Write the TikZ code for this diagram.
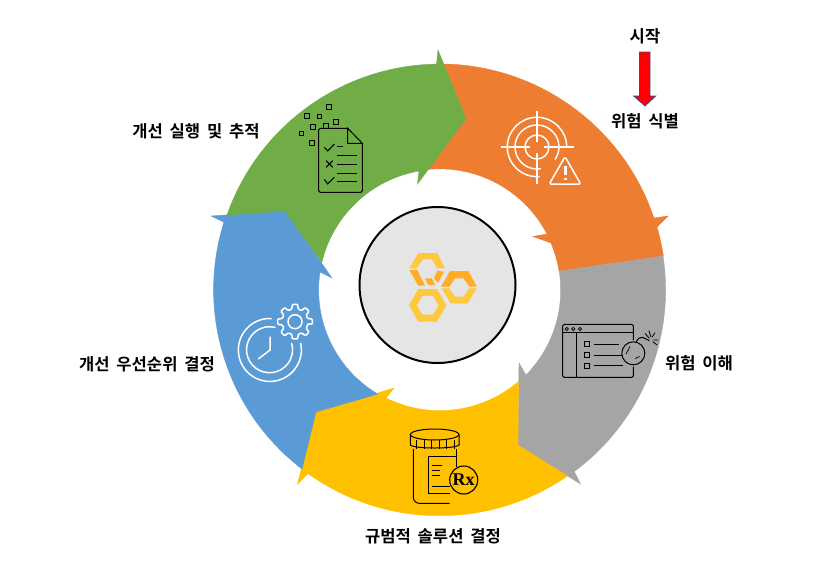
\documentclass[tikz,border=0pt]{standalone}
\usepackage{fontspec}
\newfontfamily\krfont{Noto Sans CJK KR}[BoldFont={* Bold},WordSpace=1.8]
\newfontfamily\rxfont{Liberation Serif}
\definecolor{segorange}{HTML}{ED7D31}
\definecolor{seggrey}{HTML}{A5A5A5}
\definecolor{segyellow}{HTML}{FFC000}
\definecolor{segblue}{HTML}{5B9BD5}
\definecolor{seggreen}{HTML}{70AD47}
\definecolor{hexlight}{HTML}{FFC83D}
\definecolor{hexdark}{HTML}{FFAC26}
\definecolor{arrowrim}{HTML}{2F528F}
\tikzset{
  seg/.style={draw=#1,fill=#1,line width=0.4pt},
  steplabel/.style={font=\krfont\bfseries\fontsize{16.6}{20}\selectfont,inner sep=0pt},
  iconw/.style={draw=white,line width=1.5pt},
  iconk/.style={draw=black,line width=1pt}
}
\begin{document}
\begin{tikzpicture}[x=1pt,y=1pt]
\useasboundingbox (0,0) rectangle (840,-584);
\path [seg=segorange] (444,-64) arc[start angle=88.9,end angle=18.55,radius=226] -- (668,-216) -- (657,-227) arc[start angle=16.15,end angle=8.65,radius=226] -- (559,-271) arc[start angle=9.03,end angle=22.86,radius=121] -- (533,-236.5) -- (547,-234) arc[start angle=27.5,end angle=95.5,radius=121] -- (466,-118.5) -- cycle;
\path [seg=seggrey] (663,-256) arc[start angle=8.65,end angle=-53.4,radius=226] -- (580.5,-484) -- (518,-445) -- (519,-363) -- (526,-375) arc[start angle=-44.5,end angle=9.03,radius=121] -- cycle;
\path [seg=segyellow] (567.5,-476) arc[start angle=-55.5,end angle=-125.6,radius=226] -- (297.5,-484) -- (316,-412) -- (394,-388) -- (386,-398) arc[start angle=-116.4,end angle=-49.5,radius=121] -- (518,-445) -- cycle;
\path [seg=segblue] (302,-469) arc[start angle=232.5,end angle=162.6,radius=226] -- (211,-216) -- (285,-211) -- (332,-278) -- (320,-272) arc[start angle=171.4,end angle=239.2,radius=121] -- (316,-412) -- cycle;
\path [seg=seggreen] (227,-215) arc[start angle=160.6,end angle=90.9,radius=226] -- (438,-50) -- (466,-118.5) -- (417.5,-184) -- (419,-171) arc[start angle=99.8,end angle=166.8,radius=121] -- (285,-211) -- cycle;
\draw [black,line width=2pt,fill=black!10] (437.5,-285) circle (78);
\fill [hexlight,even odd rule] (427.7,-305.3) +(0:18.7) -- +(60:18.7) -- +(120:18.7) -- +(180:18.7) -- +(240:18.7) -- +(300:18.7) -- cycle (427.7,-305.3) +(0:10.8) -- +(60:10.8) -- +(120:10.8) -- +(180:10.8) -- +(240:10.8) -- +(300:10.8) -- cycle;
\fill [hexlight] (409.3,-268.3) -- (418.3,-253) -- (437.3,-253) -- (445,-268.3) -- (437.3,-268.3) -- (431.7,-259.3) -- (422.7,-259.3) -- (416.7,-268.3) -- cycle;
\fill [hexdark] (409.3,-270) -- (417.3,-270) -- (425,-285.7) -- (418.3,-285.7) -- cycle;
\fill [hexdark] (425,-278.3) -- (431.7,-278.3) -- (435,-285) -- (428.3,-285) -- cycle;
\fill [hexdark] (437.3,-270.7) -- (444,-271.7) -- (438.3,-282.7) -- (434,-278.3) -- cycle;
\fill [hexdark] (441,-286.7) -- (450,-271) -- (468.3,-271) -- (477,-286.7) -- (469.3,-286.7) -- (463.3,-278.3) -- (455,-278.3) -- (449.3,-286.7) -- cycle;
\fill [hexlight] (441.7,-288.3) -- (449.3,-288.3) -- (455,-296.7) -- (463.3,-296.7) -- (469.3,-288.3) -- (476.7,-288.3) -- (467.7,-303.3) -- (450.7,-303.3) -- cycle;
% target
\draw [iconw] (537,-147) circle (12);
\draw [iconw] (566.7,-147) arc[start angle=0,end angle=275,radius=29.7];
\draw [iconw] (555,-159.6) arc[start angle=-35,end angle=280,radius=22];
\draw [iconw] (500.7,-147) -- (530,-147) (544,-147) -- (574.3,-147);
\draw [iconw] (537,-110.7) -- (537,-141.7) (537,-153.3) -- (537,-184);
\draw [iconw,rounded corners=1.5pt] (565,-156.7) -- (580.7,-184) -- (549.3,-184) -- cycle;
\draw [white,line width=3pt] (565,-166) -- (565,-175) (565,-177.5) -- (565,-180);
% checklist
\draw [iconk,rounded corners=1.5pt] (347.7,-128.3) -- (318.7,-128.3) -- (318.7,-192.3) -- (362.3,-192.3) -- (362.3,-143.3);
\draw [iconk] (347.7,-128.3) -- (362.3,-143.3) -- (347.7,-143.3) -- cycle;
\foreach \x/\y/\s in {329/107/5,307/115.7/5,319.3/116.7/4.5,336/122.3/5,313/126.7/5,325.7/126.3/5,301.3/133.3/4,312/142.7/5}
  \draw [black,line width=1pt] (\x-\s/2,-\y-\s/2) rectangle (\x+\s/2,-\y+\s/2);
\draw [iconk] (324.3,-147.3) -- (327.7,-151) -- (334.3,-144);
\draw [iconk] (324.3,-179.3) -- (327.7,-184) -- (334.3,-177.3);
\draw [iconk] (326,-160.7) -- (332.7,-167.3) (332.7,-160.7) -- (326,-167.3);
\draw [iconk] (337.3,-146.7) -- (343.3,-146.7);
\foreach \y in {155.7,164.3,173.3,181.3}
  \draw [iconk] (337.3,-\y) -- (356.7,-\y);
% window and bomb
\draw [iconk,rounded corners=1.5pt] (633.3,-340) -- (633.3,-324.3) -- (562.7,-324.3) -- (562.7,-377.3) -- (633.3,-377.3) -- (633.3,-366.7);
\draw [iconk] (562.7,-332.7) -- (633.3,-332.7);
\draw [iconk] (576,-332.7) -- (576,-377.3);
\foreach \x in {566.7,573.3,580}
  \draw [black,line width=0.7pt] (\x,-329) circle (1.6);
\foreach \y/\e in {344.3/619.3,355/621.7,365.7/622.7} {
  \draw [black,line width=1.2pt] (584.8,-\y+2.5) rectangle (589.8,-\y-2.5);
  \draw [iconk] (594.3,-\y) -- (\e,-\y);
}
\draw [iconk] (633.3,-353.3) circle (11.5);
\draw [black,line width=0.7pt] (626,-354) -- (630,-346.5) (635,-358.5) -- (639.5,-356.5);
\draw [iconk] (636,-342.3) .. controls (640,-334) and (644,-338) .. (649.3,-340.7);
\draw [black,line width=0.8pt] (645,-333.3) -- (649.3,-338.3) (649,-330.7) -- (650.7,-336.7) (655,-332.7) -- (652,-337.3) (658.3,-340) -- (653.3,-340) (657.3,-345) -- (652.7,-341.7);
% jar
\draw [iconk] (434.7,-434.5) ellipse (24.3 and 5.5);
\draw [iconk] (410.4,-434.5) -- (410.4,-445) .. controls (414,-449) and (455,-449) .. (459,-445) -- (459,-434.5);
\foreach \x in {416.7,424.3,431.7,439.3,446.7,454.3}
  \draw [black,line width=0.9pt] (\x,-440) -- (\x,-449);
\draw [iconk,rounded corners=6pt] (413.3,-449) -- (413.3,-503.3) -- (449.5,-503.3);
\draw [iconk] (456.7,-449) -- (456.7,-466.7);
\draw [iconk] (456.7,-456.7) -- (428.3,-456.7) -- (428.3,-493.3) -- (450,-493.3);
\foreach \y/\e in {465/441.7,470/440,475/440,486.7/450}
  \draw [black,line width=0.8pt] (431.7,-\y) -- (\e,-\y);
\node [draw=black,line width=1.1pt,circle,minimum size=28pt,inner sep=0pt,font=\rxfont\bfseries\fontsize{18}{18}\selectfont] (rxbadge) at (463.7,-480) {Rx};
% clock and gear
\draw [iconw] (271.5,-318.5) arc[start angle=87,end angle=373,radius=31.5];
\draw [iconw] (275.5,-327.5) arc[start angle=75,end angle=377,radius=23];
\draw [iconw] (270,-336.7) -- (270,-350) -- (258.3,-359);
\draw [iconw] (295,-321.7) circle (7);
\draw [iconw,rounded corners=1pt,shift={(295,-321.7)}] (-9:13)
  \foreach \a in {0,45,...,315} { -- (\a-9:17.5) -- (\a+9:17.5) -- (\a+14:13) -- (\a+31:13) } -- cycle;
% labels
\node [steplabel] (startlabel) at (645,-36) {시작};
\node [steplabel] (identify) at (645,-121) {위험 식별};
\node [steplabel] (track) at (196,-131) {개선 실행 및 추적};
\node [steplabel] (understand) at (699,-363) {위험 이해};
\node [steplabel] (prioritize) at (147,-364) {개선 우선순위 결정};
\node [steplabel] (decide) at (433,-536) {규범적 솔루션 결정};
% red arrow
\draw [arrowrim,line width=0.8pt,fill=red] (639.5,-52) -- (650,-52) -- (650,-96) -- (655.7,-96) -- (645,-106) -- (633.7,-96) -- (639.5,-96) -- cycle;
\end{tikzpicture}
\end{document}
